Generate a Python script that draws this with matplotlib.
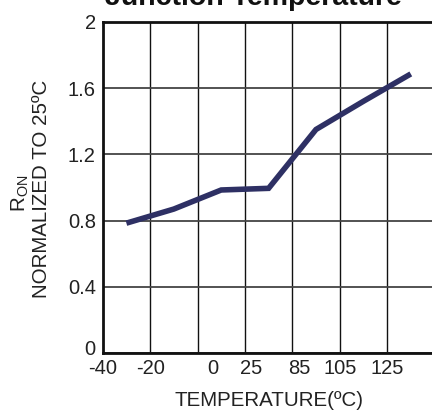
import matplotlib
matplotlib.use("Agg")
import matplotlib.pyplot as plt
import matplotlib.transforms as mtransforms
import numpy as np

plt.rcParams["font.family"] = ["Liberation Sans", "DejaVu Sans"]

# Temperature categories (ºC) and normalized on-resistance
temps_c = [-40, -20, 0, 25, 85, 105, 125]
ron_norm = [0.785, 0.87, 0.985, 0.995, 1.35, 1.52, 1.685]
y_ticks = [0, 0.4, 0.8, 1.2, 1.6, 2]
y_tick_labels = ["0", "0.4", "0.8", "1.2", "1.6", "2"]

W, H = 432, 415
fig = plt.figure(figsize=(W / 100, H / 100), dpi=100)

left, right, top, bottom = 102.7, 434.5, 21.7, 353.3
ax = fig.add_axes([left / W, 1 - bottom / H, (right - left) / W, (bottom - top) / H])

n = len(temps_c)
xs = np.arange(n) + 0.5
ax.plot(xs, ron_norm, color="#2e3064", lw=4.0, solid_joinstyle="miter",
        solid_capstyle="butt", zorder=3)

ax.set_xlim(0, n)
ax.set_ylim(0, 2)

# vertical grid on every cell boundary
for b in range(1, n):
    ax.axvline(b, color="#111111", lw=1.0, zorder=1)

# temperature labels sit loosely under the grid columns
label_pos = [0, 1, 2.33, 3.13, 4.14, 5.0, 6.0]
ax.set_xticks(label_pos)
ax.set_xticklabels([str(t) for t in temps_c])
ax.tick_params(axis="x", which="major", length=0, pad=4, labelsize=14.5,
               colors="#222222")

ax.set_yticks(y_ticks)
ax.set_yticklabels(y_tick_labels)
ax.tick_params(axis="y", length=0, pad=5, labelsize=14.5, colors="#222222")
ax.grid(which="major", axis="y", color="#444444", lw=1.3, zorder=1)

# lift the bottom "0" label slightly clear of the x labels
zero_lbl = ax.get_yticklabels()[0]
zero_lbl.set_transform(zero_lbl.get_transform() +
                       mtransforms.ScaledTranslation(0, 6 / 100, fig.dpi_scale_trans))

for s in ["left", "bottom", "top"]:
    ax.spines[s].set_linewidth(2.0)
    ax.spines[s].set_color("#111111")
ax.spines["right"].set_visible(False)

fig.text(269 / W, 1 - 400 / H, "TEMPERATURE(ºC)", ha="center", va="center",
         fontsize=14.8, color="#222222")
fig.text(42 / W, 1 - 189 / H, "NORMALIZED TO 25ºC", ha="center", va="center",
         rotation=90, fontsize=14.8, color="#222222")
fig.text(20 / W, 1 - 193 / H, r"R$_{\mathregular{ON}}$", ha="center", va="center",
         rotation=90, fontsize=14.8, color="#222222")
fig.text(253 / W, 1 - 5 / H, "Junction Temperature", ha="center", va="baseline",
         fontsize=20.5, fontweight="bold", color="#111111")

fig.savefig("out.png", dpi=100)
